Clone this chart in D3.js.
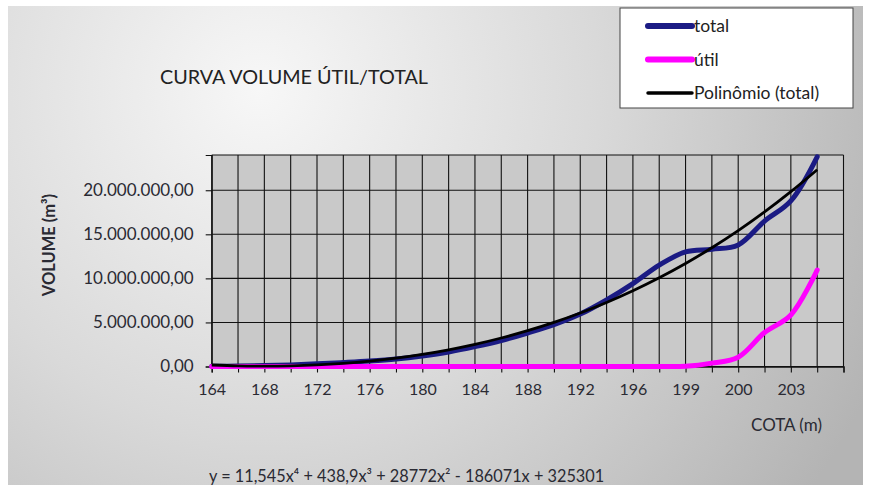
<!DOCTYPE html>
<html><head><meta charset="utf-8">
<script src="https://cdn.jsdelivr.net/npm/d3@7"></script>
<style>html,body{margin:0;padding:0;background:#fff;}svg{display:block;}</style>
</head><body>
<svg id="chart" width="873" height="485"></svg>
<script>
const categories = ["164","166","168","170","172","174","176","178","180","182","184","186","188","190","192","194","196","198","199","199,5","200","202","203","204"];
const totalValues = [0.02e6,0.05e6,0.1e6,0.18e6,0.3e6,0.45e6,0.62e6,0.85e6,1.2e6,1.65e6,2.25e6,2.95e6,3.8e6,4.75e6,5.95e6,7.55e6,9.4e6,11.5e6,13.0e6,13.3e6,13.8e6,16.5e6,18.8e6,23.8e6];
const utilValues = [0,0,0,0,0,0,0,0,0,0,0,0,0,0,0,0,0,0,0.02e6,0.38e6,1.05e6,3.85e6,5.85e6,10.95e6];
const trendValues = [0.168e6,0.072e6,0.039e6,0.072e6,0.176e6,0.354e6,0.611e6,0.950e6,1.377e6,1.896e6,2.513e6,3.233e6,4.063e6,5.007e6,6.074e6,7.268e6,8.598e6,10.070e6,11.692e6,13.471e6,15.416e6,17.535e6,19.837e6,22.330e6];
const yTicks = [0,5e6,10e6,15e6,20e6];
const seriesNames = ["total","útil","Polinômio (total)"];
const titleText = "CURVA VOLUME ÚTIL/TOTAL";
const equationText = "y = 11,545x⁴ + 438,9x³ + 28772x² - 186071x + 325301";

const svg = d3.select("#chart");
const font = "Lato, 'Open Sans', sans-serif";

// background
const defs = svg.append("defs");
const rg = defs.append("radialGradient").attr("id","bg").attr("gradientUnits","userSpaceOnUse")
  .attr("cx",260).attr("cy",90).attr("r",680);
rg.append("stop").attr("offset","0").attr("stop-color","#f7f7f7");
rg.append("stop").attr("offset","0.5").attr("stop-color","#d9d9d9");
rg.append("stop").attr("offset","1").attr("stop-color","#b4b4b4");
svg.append("rect").attr("x",0).attr("y",0).attr("width",873).attr("height",485).attr("fill","#fff");
svg.append("rect").attr("x",8).attr("y",6).attr("width",855).attr("height",479).attr("fill","url(#bg)");

const L=211.7, R=843.5, T=155, B=366.5;
const x = d3.scaleLinear().domain([0,24]).range([L,R]);
const y = d3.scaleLinear().domain([0,24e6]).range([B,T]);

const plot = svg.append("g");
plot.append("rect").attr("x",L).attr("y",T).attr("width",R-L).attr("height",B-T).attr("fill","#c9c9c9");

// vertical grid
plot.append("g").selectAll("line").data(d3.range(0,25)).join("line")
  .attr("x1",d=>x(d)).attr("x2",d=>x(d)).attr("y1",T).attr("y2",B)
  .attr("stroke","#111").attr("stroke-width",1.1);
// horizontal grid
plot.append("g").selectAll("line").data(yTicks.concat([24e6])).join("line")
  .attr("x1",L).attr("x2",R).attr("y1",d=>y(d)).attr("y2",d=>y(d))
  .attr("stroke","#111").attr("stroke-width",1.1);

// y axis
const yAxis = d3.axisLeft(y).tickValues(yTicks).tickSize(6).tickPadding(12)
  .tickFormat(d=>d3.format(",.2f")(d).replace(/,/g,"X").replace(/\./g,",").replace(/X/g,"."));
const gy = svg.append("g").attr("transform",`translate(${L},0)`).call(yAxis);
gy.select(".domain").attr("stroke","#111").attr("stroke-width",1.2);
gy.selectAll(".tick line").attr("stroke","#111").attr("stroke-width",1.1);
gy.selectAll("text").attr("font-family",font).attr("font-size",17).attr("fill","#2a2a33");

// x axis
const xAxis = d3.axisBottom(x).tickValues(d3.range(0,25)).tickSize(6).tickPadding(11)
  .tickFormat(d=> (d%2===0 && d<categories.length) ? categories[d] : "");
const gx = svg.append("g").attr("transform",`translate(0,${B})`).call(xAxis);
gx.select(".domain").attr("stroke","#111").attr("stroke-width",1.3);
gx.selectAll(".tick line").attr("stroke","#111").attr("stroke-width",1.1);
gx.selectAll("text").attr("font-family",font).attr("font-size",16).attr("fill","#2a2a33");

// lines
const line = d3.line().x((d,i)=>x(i)).y(d=>y(d)).curve(d3.curveCatmullRom.alpha(0.5));
svg.append("path").datum(totalValues).attr("d",line).attr("fill","none")
  .attr("stroke","#1b1b84").attr("stroke-width",5).attr("stroke-linecap","round");
svg.append("path").datum(utilValues).attr("d",line).attr("fill","none")
  .attr("stroke","#ff00ff").attr("stroke-width",5).attr("stroke-linecap","round");
svg.append("path").datum(trendValues).attr("d",line).attr("fill","none")
  .attr("stroke","#000").attr("stroke-width",2.8);

// title
svg.append("text").attr("x",160).attr("y",84).text(titleText)
  .attr("font-family",font).attr("font-size",19.8).attr("fill","#222");

// y title
svg.append("text").attr("transform","translate(55,245) rotate(-90)").attr("text-anchor","middle")
  .attr("font-family",font).attr("font-size",16.5).attr("font-weight","bold").attr("fill","#2a2a33")
  .text("VOLUME (m³)");

// x title
svg.append("text").attr("x",822).attr("y",431).attr("text-anchor","end")
  .attr("font-family",font).attr("font-size",17).attr("fill","#2a2a33").text("COTA (m)");

// equation
svg.append("text").attr("x",209).attr("y",482)
  .attr("font-family",font).attr("font-size",16.3).attr("fill","#2a2a33").text(equationText);

// legend
const lg = svg.append("g");
lg.append("rect").attr("x",620).attr("y",8).attr("width",233).attr("height",100)
  .attr("fill","#fff").attr("stroke","#444").attr("stroke-width",1);
const legColors = ["#1b1b84","#ff00ff","#000"];
const legW = [6,6,3.5];
seriesNames.forEach((n,i)=>{
  const yy = 26 + i*33.5;
  lg.append("line").attr("x1",648).attr("x2",692).attr("y1",yy).attr("y2",yy)
    .attr("stroke",legColors[i]).attr("stroke-width",legW[i]).attr("stroke-linecap","round");
  lg.append("text").attr("x",694).attr("y",yy+6).text(n)
    .attr("font-family",font).attr("font-size",17.5).attr("fill","#222");
});
</script>
</body></html>
